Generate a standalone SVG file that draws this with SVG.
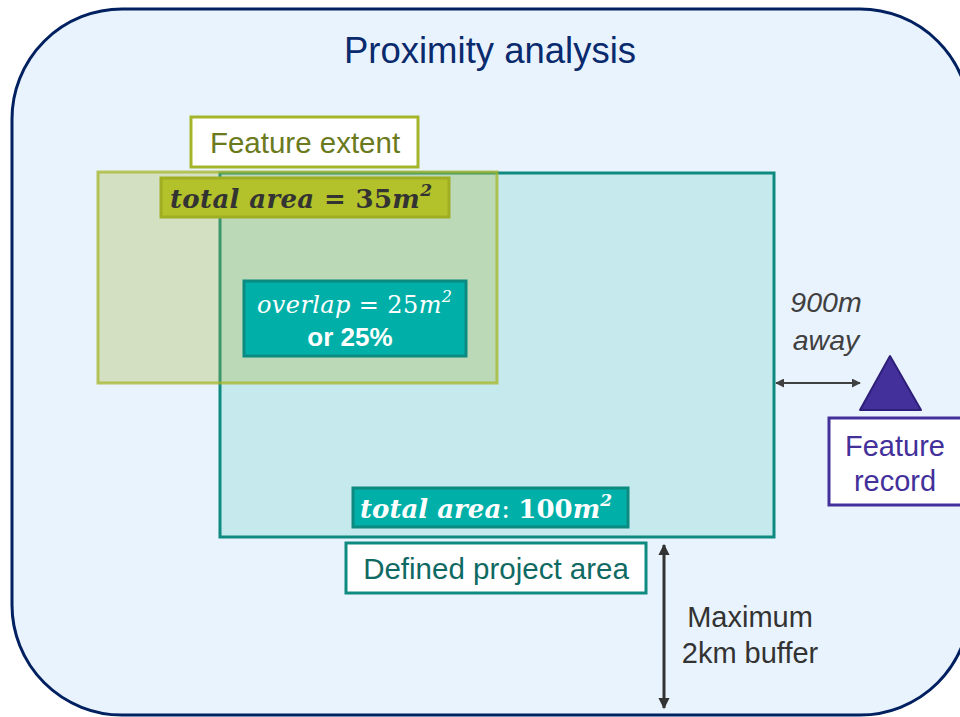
<svg xmlns="http://www.w3.org/2000/svg" width="960" height="717" viewBox="0 0 960 717">
<defs>
<style>
.sans{font-family:"Liberation Sans",Arial,sans-serif}
.math{font-family:"DejaVu Serif","Liberation Serif",serif;font-style:italic}
.lbl{fill:#ffffff;stroke-width:3}
</style>
<marker id="ah" viewBox="0 0 10 10" refX="9" refY="5" markerWidth="5" markerHeight="5" orient="auto-start-reverse">
<path d="M0,0 L10,5 L0,10 Z" fill="#404040"/>
</marker>
<marker id="ah2" viewBox="0 0 10 10" refX="9" refY="5" markerWidth="3.8" markerHeight="3.8" orient="auto-start-reverse">
<path d="M0,0 L10,5 L0,10 Z" fill="#333333"/>
</marker>
</defs>
<rect width="960" height="717" fill="#ffffff"/>
<g id="frame">
<rect x="12" y="9" width="958" height="706" rx="110" ry="110" fill="#e9f3fd" stroke="#002060" stroke-width="3"/>
<text class="sans" x="490" y="63" font-size="36.5" fill="#0a2a6e" text-anchor="middle">Proximity analysis</text>
</g>
<g id="project-area">
<rect x="220" y="173" width="554" height="364" fill="#c5e9ec" stroke="#0e8a80" stroke-width="3"/>
</g>
<g id="feature-extent">
<rect x="98" y="172" width="399" height="211" fill="#a5b53a" fill-opacity="0.3" stroke="#a5b52a" stroke-opacity="0.75" stroke-width="3"/>
</g>
<g id="feature-extent-label">
<rect x="191" y="117" width="227" height="50" class="lbl" stroke="#a5b52a"/>
<text class="sans" x="305" y="153" font-size="29.5" fill="#6b7a1c" text-anchor="middle">Feature extent</text>
</g>
<g id="feature-total">
<rect x="161" y="178" width="288" height="39" fill="#b3c12a" stroke="#9fae22" stroke-width="3"/>
<text class="math" x="170" y="208" font-size="26" font-weight="bold" fill="#333333" textLength="262" lengthAdjust="spacing">total area = <tspan font-style="normal">35</tspan>m<tspan font-size="17" dy="-12">2</tspan></text>
</g>
<g id="overlap">
<rect x="244" y="281" width="222" height="75" fill="#00b0a8" stroke="#0a8a80" stroke-width="3"/>
<text class="math" x="257" y="313" font-size="24" fill="#ffffff" textLength="195" lengthAdjust="spacing">overlap = <tspan font-style="normal">25</tspan>m<tspan font-size="16" dy="-11">2</tspan></text>
<text class="sans" x="350" y="346" font-size="26" font-weight="bold" fill="#ffffff" text-anchor="middle">or 25%</text>
</g>
<g id="project-total">
<rect x="353" y="488" width="275" height="39" fill="#00b0a8" stroke="#0c8a80" stroke-width="3"/>
<text class="math" x="360" y="518" font-size="26" font-weight="bold" fill="#ffffff" textLength="252" lengthAdjust="spacing">total area<tspan font-style="normal" font-weight="normal">: </tspan><tspan font-style="normal">100</tspan>m<tspan font-size="17" dy="-12">2</tspan></text>
</g>
<g id="project-label">
<rect x="346" y="543" width="300" height="50" class="lbl" stroke="#0e8a80"/>
<text class="sans" x="496" y="579" font-size="29.5" fill="#0f6a63" text-anchor="middle">Defined project area</text>
</g>
<g id="feature-record">
<polygon points="890,356 860,410 921,410" fill="#43309a" stroke="#2e1f7a" stroke-width="2" stroke-linejoin="round"/>
<rect x="829" y="418" width="140" height="87" class="lbl" stroke="#43309a"/>
<text class="sans" x="895" y="456" font-size="29" fill="#43309a" text-anchor="middle">Feature</text>
<text class="sans" x="895" y="491" font-size="29" fill="#43309a" text-anchor="middle">record</text>
</g>
<g id="connectors">
<line x1="776" y1="383" x2="860" y2="383" stroke="#404040" stroke-width="1.8" marker-start="url(#ah)" marker-end="url(#ah)"/>
<line x1="664" y1="545" x2="664" y2="708" stroke="#333333" stroke-width="3" marker-start="url(#ah2)" marker-end="url(#ah2)"/>
</g>
<g id="labels">
<text class="sans" x="826" y="312" font-size="28.5" font-style="italic" fill="#404040" text-anchor="middle">900m</text>
<text class="sans" x="826" y="350" font-size="28.5" font-style="italic" fill="#404040" text-anchor="middle">away</text>
<text class="sans" x="750" y="627" font-size="29" fill="#333333" text-anchor="middle">Maximum</text>
<text class="sans" x="750" y="663" font-size="29" fill="#333333" text-anchor="middle">2km buffer</text>
</g>
</svg>
